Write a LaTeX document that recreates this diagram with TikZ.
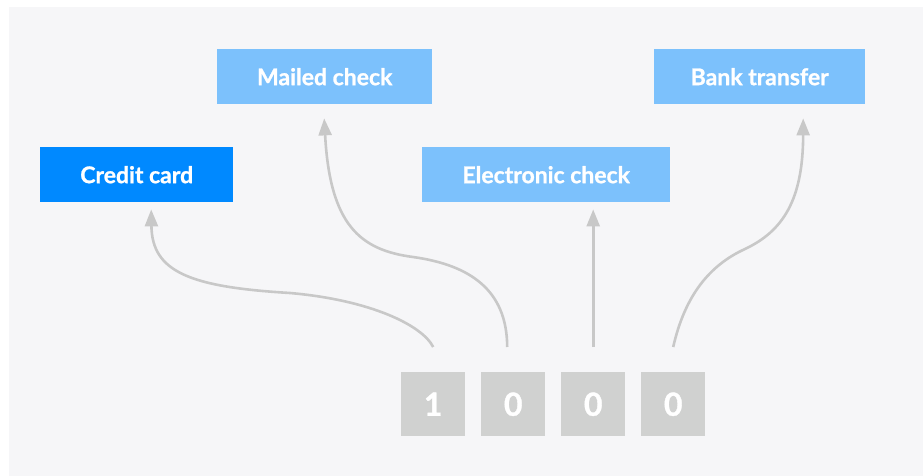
\documentclass[tikz,border=0pt]{standalone}
\usepackage{fontspec}
\setmainfont{Lato}[BoldFeatures={FakeBold=1}]
\usetikzlibrary{arrows.meta}
\definecolor{bgc}{RGB}{246,246,248}
\definecolor{bright}{RGB}{0,137,255}
\definecolor{light}{RGB}{124,193,252}
\definecolor{digitc}{RGB}{208,209,208}
\definecolor{arrowc}{RGB}{200,200,200}
\tikzset{
  optbox/.style={anchor=north west, inner sep=0pt, minimum height=55pt, text=white, font=\bfseries\fontsize{23}{25}\selectfont},
  digitbox/.style={anchor=north west, inner sep=0pt, fill=digitc, minimum width=64pt, minimum height=64pt, text=white, font=\bfseries\fontsize{32}{34}\selectfont},
  conn/.style={draw=arrowc, line width=2.6pt, -{Triangle[length=17pt,width=13pt]}}
}
\begin{document}
\begin{tikzpicture}[x=1pt,y=-1pt]
\useasboundingbox (0,0) rectangle (923,476);
\fill[white] (0,0) rectangle (923,476);
\fill[bgc] (9,7) rectangle (923,476);
\node[optbox, fill=bright, minimum width=193pt] (cc) at (40,147) {Credit card};
\node[optbox, fill=light, minimum width=215pt] (mc) at (217,49) {Mailed check};
\node[optbox, fill=light, minimum width=248pt] (ec) at (422,147) {Electronic check};
\node[optbox, fill=light, minimum width=211pt] (bt) at (654,49) {Bank transfer};
\node[digitbox] (d1) at (401,372) {1};
\node[digitbox] (d2) at (481,372) {0};
\node[digitbox] (d3) at (561,372) {0};
\node[digitbox] (d4) at (641,372) {0};
\draw[conn] ([yshift=25pt]d1.north) .. controls (422,325) and (370,300) .. (290,293)
  .. controls (190,287) and (152,272) .. ([xshift=14.5pt,yshift=-7pt]cc.south);
\draw[conn] ([xshift=-6pt,yshift=25pt]d2.north) .. controls (507,290) and (470,265) .. (413,257)
  .. controls (360,250) and (330,225) .. ([xshift=-0.5pt,yshift=-14pt]mc.south);
\draw[conn] ([yshift=25pt]d3.north) -- ([xshift=47pt,yshift=-7pt]ec.south);
\draw[conn] ([yshift=25pt]d4.north) .. controls (685,295) and (710,265) .. (745,249)
  .. controls (783,231) and (803,200) .. ([xshift=43.5pt,yshift=-14pt]bt.south);
\end{tikzpicture}
\end{document}
